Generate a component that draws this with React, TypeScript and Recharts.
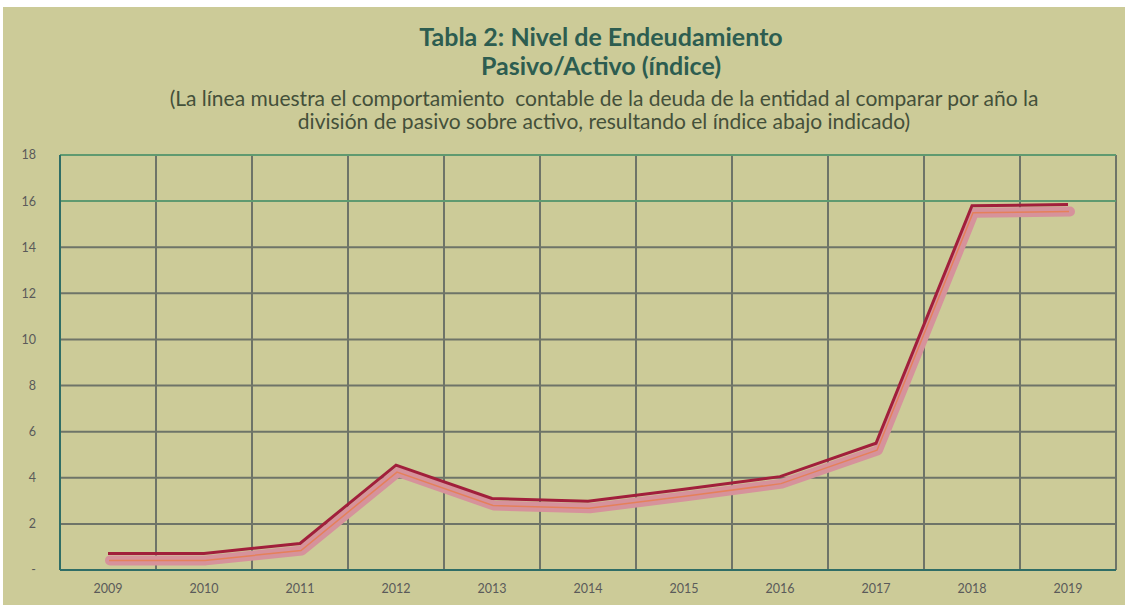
import React from 'react';
import { LineChart, Line, XAxis, YAxis, CartesianGrid, ReferenceLine } from 'recharts';

const years = ['2009', '2010', '2011', '2012', '2013', '2014', '2015', '2016', '2017', '2018', '2019'];
const indice = [0.72, 0.72, 1.15, 4.55, 3.1, 2.98, 3.5, 4.05, 5.5, 15.8, 15.85];
const yTicks = [0, 2, 4, 6, 8, 10, 12, 14, 16, 18];

const data = years.map((y, i) => ({ year: y, v: indice[i] }));

const W = 1122;
const H = 598;

export default function App() {
  return (
    <div style={{ position: 'absolute', left: 3, top: 7, width: W, height: H, background: '#cccb98', fontFamily: 'Lato, sans-serif' }}>
      <style>{`
        .shadow-line path { transform: translate(2px, 7px); }
        .mid-line path { transform: translate(1px, 7px); }
      `}</style>
      <div style={{ position: 'absolute', left: 37, width: W, top: 15, textAlign: 'center', color: '#2d5d50', fontWeight: 700, fontSize: 25, lineHeight: '29px' }}>
        <div>Tabla 2: Nivel de Endeudamiento</div>
        <div>Pasivo/Activo (índice)</div>
      </div>
      <div style={{ position: 'absolute', left: 40, width: W, top: 79, textAlign: 'center', color: '#44503a', fontSize: 21, lineHeight: '23px' }}>
        <div>(La línea muestra el comportamiento&nbsp; contable de la deuda de la entidad al comparar por año la</div>
        <div>división de pasivo sobre activo, resultando el índice abajo indicado)</div>
      </div>
      <div style={{ position: 'absolute', left: 0, top: 0 }}>
        <LineChart width={W} height={H} data={data} margin={{ top: 148, right: 9, bottom: 0, left: 17 }}>
          <CartesianGrid
            stroke="#6e7468"
            strokeWidth={2}
            horizontalValues={yTicks}
            verticalCoordinatesGenerator={({ offset }: any) =>
              years.map((_, i) => offset.left + ((i + 1) * offset.width) / years.length)
            }
          />
          <ReferenceLine y={16} stroke="#5f9a70" strokeWidth={2} />
          <ReferenceLine y={18} stroke="#5f9a70" strokeWidth={2} />
          <XAxis
            dataKey="year"
            scale="band"
            height={35}
            axisLine={{ stroke: '#2f6e66', strokeWidth: 2 }}
            tickLine={false}
            tickMargin={8}
            tick={{ fill: '#5a5a5a', fontSize: 12.5, fontFamily: 'Lato, sans-serif' }}
          />
          <YAxis
            domain={[0, 18]}
            ticks={yTicks}
            width={40}
            axisLine={{ stroke: '#2f6e66', strokeWidth: 2 }}
            tickLine={false}
            tickMargin={18}
            tickFormatter={(v: number) => (v === 0 ? '-' : String(v))}
            tick={{ fill: '#5a5a5a', fontSize: 12.5, fontFamily: 'Lato, sans-serif' }}
          />
          <Line className="shadow-line" dataKey="v" stroke="#d6929b" strokeWidth={10} strokeLinejoin="round" strokeLinecap="round" dot={false} activeDot={false} isAnimationActive={false} />
          <Line className="mid-line" dataKey="v" stroke="#e5805a" strokeWidth={1.5} dot={false} activeDot={false} isAnimationActive={false} />
          <Line dataKey="v" stroke="#a11f3b" strokeWidth={3} dot={false} activeDot={false} isAnimationActive={false} />
        </LineChart>
      </div>
    </div>
  );
}
